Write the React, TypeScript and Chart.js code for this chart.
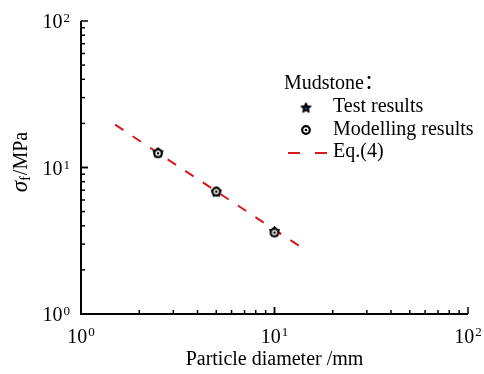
import React, { useEffect, useRef } from "react";
import { Chart, registerables } from "chart.js";

Chart.register(...registerables);

// Particle diameter (mm) and tensile strength (MPa) for mudstone
const diameters = [2.5, 5, 10];
const testResults = [12.6, 6.8, 3.65];
const modellingResults = [12.5, 6.85, 3.6];
// Eq.(4) fitted line, end points
const eqDiameters = [1.5, 13.5];
const eqStrength = [19.6, 2.9];

const FONT = "'Liberation Serif', 'Times New Roman', 'Noto Sans CJK SC', serif";
const RED = "#d7191c";

function makeStar(r: number): HTMLCanvasElement {
  const c = document.createElement("canvas");
  const s = Math.ceil(r * 2 + 4);
  c.width = s;
  c.height = s;
  const g = c.getContext("2d")!;
  const cx = s / 2, cy = s / 2;
  g.beginPath();
  for (let i = 0; i < 10; i++) {
    const rad = i % 2 === 0 ? r : r * 0.48;
    const a = -Math.PI / 2 + (i * Math.PI) / 5;
    const x = cx + rad * Math.cos(a);
    const y = cy + rad * Math.sin(a);
    if (i === 0) g.moveTo(x, y);
    else g.lineTo(x, y);
  }
  g.closePath();
  g.fillStyle = "#000";
  g.fill();
  g.lineWidth = 1;
  g.strokeStyle = "#000";
  g.stroke();
  g.beginPath();
  g.arc(cx, cy + 0.5, 1.1, 0, Math.PI * 2);
  g.fillStyle = "#1f6fd0";
  g.fill();
  return c;
}

function makeRing(r: number): HTMLCanvasElement {
  const c = document.createElement("canvas");
  const s = Math.ceil(r * 2 + 6);
  c.width = s;
  c.height = s;
  const g = c.getContext("2d")!;
  const cx = s / 2, cy = s / 2;
  g.beginPath();
  g.arc(cx, cy, r, 0, Math.PI * 2);
  g.fillStyle = "#fff";
  g.fill();
  g.lineWidth = 2.2;
  g.strokeStyle = "#000";
  g.stroke();
  g.beginPath();
  g.arc(cx, cy, 1.3, 0, Math.PI * 2);
  g.fillStyle = "#000";
  g.fill();
  return c;
}

const isPow10 = (v: number) => {
  const e = Math.log10(v);
  return Math.abs(e - Math.round(e)) < 1e-9;
};

const starImg = makeStar(5.5);
const ringImg = makeRing(3.8);

// draws "10" with a raised exponent; anchor: "right" or "center"
function drawPow(ctx: CanvasRenderingContext2D, v: number, x: number, baseline: number, anchor: "right" | "center", raise: number) {
  const exp = String(Math.round(Math.log10(v)));
  ctx.font = `20px ${FONT}`;
  const w1 = ctx.measureText("10").width;
  ctx.font = `13px ${FONT}`;
  const w2 = ctx.measureText(exp).width;
  const total = w1 + w2 + 1;
  const left = anchor === "right" ? x - total : x - total / 2;
  ctx.textAlign = "left";
  ctx.textBaseline = "alphabetic";
  ctx.font = `20px ${FONT}`;
  ctx.fillText("10", left, baseline);
  ctx.font = `13px ${FONT}`;
  ctx.fillText(exp, left + w1 + 1, baseline - raise);
}

const decorations = {
  id: "decorations",
  afterDraw(chart: any) {
    const ctx = chart.ctx as CanvasRenderingContext2D;
    const xs = chart.scales.x;
    const ys = chart.scales.y;
    const area = chart.chartArea;
    ctx.save();
    ctx.strokeStyle = "#000";
    ctx.fillStyle = "#000";

    // inward tick marks
    ctx.lineWidth = 1.5;
    const decades = [1, 10];
    for (const d of decades) {
      for (let m = 1; m <= 10; m++) {
        const v = d * m;
        const major = m === 1 || m === 10;
        const len = major ? 7 : 4;
        const px = xs.getPixelForValue(v);
        ctx.beginPath();
        ctx.moveTo(px, area.bottom);
        ctx.lineTo(px, area.bottom - len);
        ctx.stroke();
        const py = ys.getPixelForValue(v);
        ctx.beginPath();
        ctx.moveTo(area.left, py);
        ctx.lineTo(area.left + len, py);
        ctx.stroke();
      }
    }

    // axis lines
    ctx.lineWidth = 2;
    ctx.beginPath();
    ctx.moveTo(area.left, area.top);
    ctx.lineTo(area.left, area.bottom);
    ctx.lineTo(area.right, area.bottom);
    ctx.stroke();

    // decade tick labels
    for (const t of xs.ticks) {
      if (!isPow10(t.value)) continue;
      drawPow(ctx, t.value, xs.getPixelForValue(t.value), area.bottom + 29, "center", 7);
    }
    for (const t of ys.ticks) {
      if (!isPow10(t.value)) continue;
      drawPow(ctx, t.value, area.left - 11, ys.getPixelForValue(t.value) + 7, "right", 6);
    }

    // x-axis title
    ctx.font = `20px ${FONT}`;
    ctx.textAlign = "center";
    ctx.textBaseline = "middle";
    ctx.fillText("Particle diameter /mm", (area.left + area.right) / 2, 360);

    // y-axis title: σf/MPa
    ctx.save();
    ctx.translate(20, 162);
    ctx.rotate(-Math.PI / 2);
    ctx.textBaseline = "alphabetic";
    ctx.textAlign = "left";
    const sigFont = `italic 23px ${FONT}`;
    const subFont = `14px ${FONT}`;
    const restFont = `20px ${FONT}`;
    ctx.font = sigFont;
    const wS = ctx.measureText("σ").width;
    ctx.font = subFont;
    const wF = ctx.measureText("f").width;
    ctx.font = restFont;
    const wR = ctx.measureText("/MPa").width;
    let x0 = -(wS + wF + 1 + wR) / 2;
    const base = 7;
    ctx.font = sigFont;
    ctx.fillText("σ", x0, base);
    x0 += wS;
    ctx.font = subFont;
    ctx.fillText("f", x0, base + 3);
    x0 += wF + 1;
    ctx.font = restFont;
    ctx.fillText("/MPa", x0, base);
    ctx.restore();

    // legend
    ctx.font = `20px ${FONT}`;
    ctx.textAlign = "left";
    ctx.textBaseline = "middle";
    ctx.fillText("Mudstone：", 284, 84);
    ctx.drawImage(starImg, 306 - starImg.width / 2, 108 - starImg.height / 2);
    ctx.fillText("Test results", 333, 107);
    ctx.drawImage(ringImg, 306 - ringImg.width / 2, 130 - ringImg.height / 2);
    ctx.fillText("Modelling results", 333, 130);
    ctx.strokeStyle = RED;
    ctx.lineWidth = 2;
    ctx.beginPath();
    ctx.moveTo(288, 153);
    ctx.lineTo(300, 153);
    ctx.moveTo(315, 153);
    ctx.lineTo(327, 153);
    ctx.stroke();
    ctx.fillText("Eq.(4)", 333, 152);
    ctx.restore();
  },
};

export default function App() {
  const ref = useRef<HTMLCanvasElement>(null);

  useEffect(() => {
    if (!ref.current) return;
    const chart = new Chart(ref.current, {
      type: "scatter",
      data: {
        datasets: [
          {
            label: "Modelling results",
            data: diameters.map((d, i) => ({ x: d, y: modellingResults[i] })),
            pointStyle: ringImg,
            order: 0,
          },
          {
            label: "Test results",
            data: diameters.map((d, i) => ({ x: d, y: testResults[i] })),
            pointStyle: starImg,
            order: 1,
          },
          {
            label: "Eq.(4)",
            data: eqDiameters.map((d, i) => ({ x: d, y: eqStrength[i] })),
            showLine: true,
            borderColor: RED,
            borderWidth: 2,
            borderDash: [10, 11],
            pointRadius: 0,
            order: 2,
          },
        ],
      },
      options: {
        responsive: false,
        animation: false,
        layout: { padding: { top: 21, right: 16, left: 0, bottom: 0 } },
        plugins: { legend: { display: false }, tooltip: { enabled: false } },
        scales: {
          x: {
            type: "logarithmic",
            min: 1,
            max: 100,
            grid: { display: false },
            border: { display: false },
            ticks: { display: false, autoSkip: false },
            afterFit: (s: any) => {
              s.height = 60;
            },
          },
          y: {
            type: "logarithmic",
            min: 1,
            max: 100,
            grid: { display: false },
            border: { display: false },
            ticks: { display: false, autoSkip: false },
            afterFit: (s: any) => {
              s.width = 81;
            },
          },
        },
      },
      plugins: [decorations],
    });
    return () => chart.destroy();
  }, []);

  return (
    <div style={{ position: "absolute", left: 0, top: 0, width: 484, height: 374, background: "#fff" }}>
      <canvas ref={ref} width={484} height={374} />
    </div>
  );
}
